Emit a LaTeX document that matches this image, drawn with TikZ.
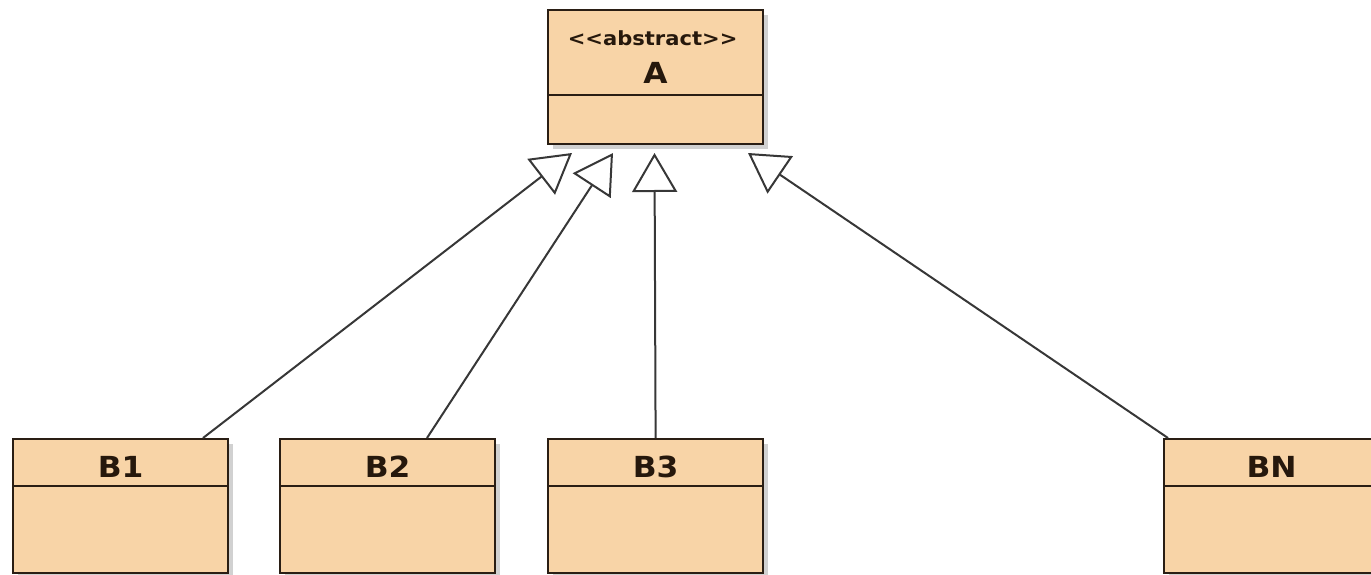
\documentclass[tikz,border=0pt]{standalone}
\usepackage{fontspec}
\newfontfamily\umlfont[Ligatures=TeXOff]{DejaVu Sans}
\newfontfamily\umlwide[Ligatures=TeXOff,FakeStretch=1.08]{DejaVu Sans}
\usetikzlibrary{arrows.meta,calc,shadows}
\definecolor{classfill}{RGB}{248,212,167}
\definecolor{classline}{RGB}{42,30,20}
\definecolor{textdark}{RGB}{38,24,12}
\definecolor{linkgray}{RGB}{55,55,55}

\begin{document}
\begin{tikzpicture}[x=1pt,y=-1pt,
  classbox/.style={draw=classline, line width=2.2pt, fill=classfill,
    minimum width=215pt, minimum height=134pt, anchor=north west,
    inner sep=0pt,
    drop shadow={shadow xshift=5pt, shadow yshift=-5pt, fill=black!30, opacity=0.6}},
  divider/.style={draw=classline, line width=2.2pt},
  classname/.style={font={\umlwide\bfseries\fontsize{29}{32}\selectfont},
    text=textdark, anchor=base, inner sep=0pt},
  stereotype/.style={font={\umlwide\bfseries\fontsize{19.5}{21}\selectfont},
    text=textdark, anchor=base, inner sep=0pt},
  generalization/.style={draw=linkgray, line width=2pt,
    -{Triangle[open, length=39pt, width=45pt, line width=2pt]}}
]
\path[use as bounding box] (0,0) rectangle (1371,575);
\clip (0,0) rectangle (1371,575);

% abstract base class
\node[classbox] (a) at (547,9) {};
\draw[divider] ($(a.north west)+(0,86)$) -- ($(a.north east)+(0,86)$);
\node[stereotype] (a-st) at ($(a.north)+(-3,37)$) {<<abstract>>};
\node[classname] (a-name) at ($(a.north)+(0,75)$) {A};

% subclasses
\foreach \id/\x/\lbl in {b1/12/B1, b2/279/B2, b3/547/B3, bn/1163/BN}{
  \node[classbox] (\id) at (\x,438) {};
  \draw[divider] ($(\id.north west)+(0,48)$) -- ($(\id.north east)+(0,48)$);
  \node[classname] (\id-name) at ($(\id.north)+(0,39)$) {\lbl};
}

% arrow tips, just below the base class
\coordinate (t1) at (572,153);
\coordinate (t2) at (613,153);
\coordinate (t3) at (654.5,153);
\coordinate (t4) at (748,153);

% inheritance links
\draw[generalization] ($(b1.north west)+(191,0)$) -- (t1);
\draw[generalization] ($(b2.north west)+(148,0)$) -- (t2);
\draw[generalization] (b3.north) -- (t3);
\draw[generalization] ($(bn.north west)+(5,0)$) -- (t4);
\end{tikzpicture}
\end{document}
